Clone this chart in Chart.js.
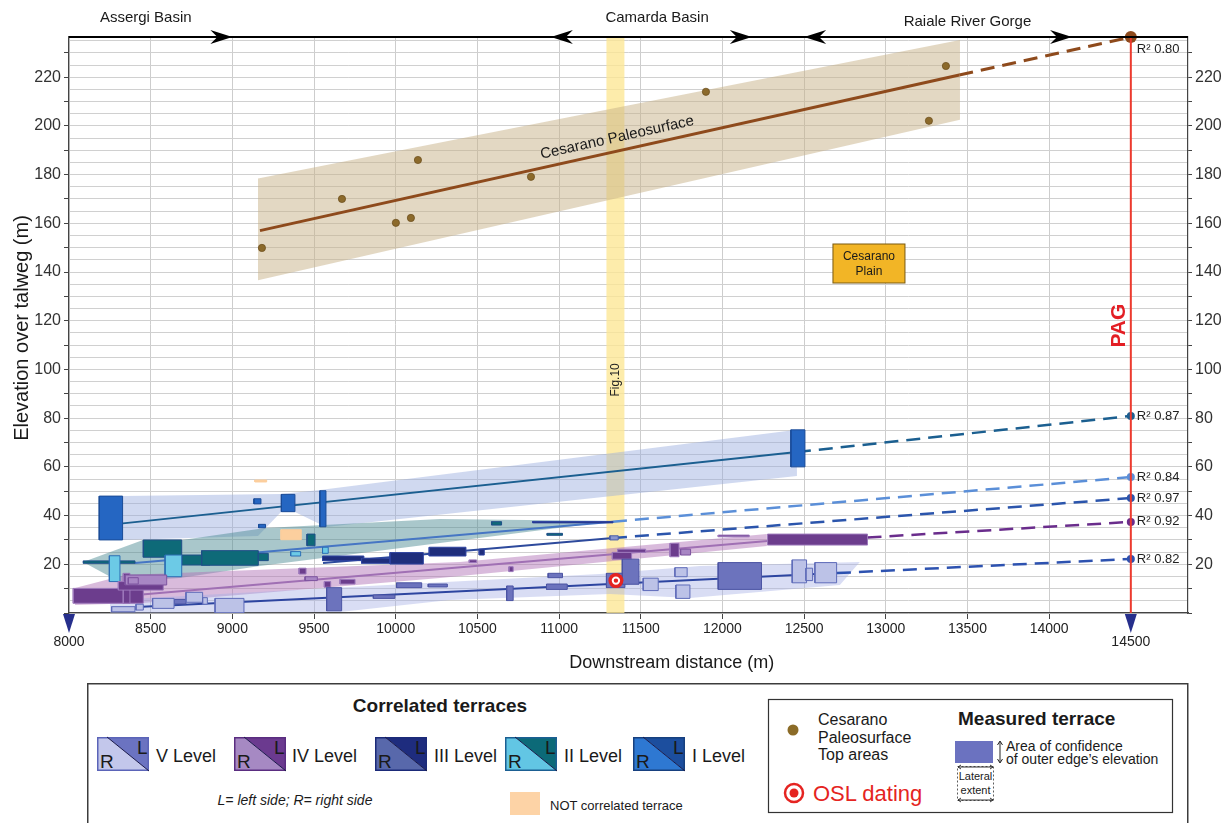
<!DOCTYPE html>
<html>
<head>
<meta charset="utf-8">
<script src="https://cdn.jsdelivr.net/npm/chart.js@4.4.1/dist/chart.umd.min.js"></script>
<style>
  body { margin: 0; background: #fff; width: 1221px; height: 823px; overflow: hidden; position: relative; }
  #wrap { position: absolute; left: 0; top: 0; width: 1221px; height: 680px; }
  #leg { position: absolute; left: 0; top: 680px; }
</style>
</head>
<body>
<div id="wrap"><canvas id="c"></canvas></div>
<svg id="leg" width="1221" height="143"></svg>
<script>
const NARROW = "'Liberation Sans Narrow','DejaVu Sans Condensed','Arial Narrow',sans-serif";
const SANS = "'Liberation Sans',Arial,sans-serif";

// axes
const distanceTicks = [8000, 8500, 9000, 9500, 10000, 10500, 11000, 11500, 12000, 12500, 13000, 13500, 14000, 14500];
const elevationLabels = [20, 40, 60, 80, 100, 120, 140, 160, 180, 200, 220];

// basins along the top of the profile
const basins = [
  { name: 'Assergi Basin', from: 8000, to: 9000, label: 8470, heads: '>' },
  { name: 'Camarda Basin', from: 10950, to: 12180, label: 11600, heads: '<>' },
  { name: 'Raiale River Gorge', from: 12500, to: 14140, label: 13500, heads: '<>' }
];

// Cesarano paleosurface
const cesaranoDistance = [9181, 9671, 10001, 10093, 10136, 10828, 11899, 13264, 13368];
const cesaranoElevation = [149.9, 170.0, 160.2, 162.2, 186.0, 179.1, 214.0, 202.1, 224.6];
const cesaranoTrend = [[9169, 157], [13450, 220.9]];
const cesaranoExt = [[13450, 220.9], [14500, 236.5]];
const cesaranoBand = [[9157, 178.4], [13454, 235.3], [13454, 202.5], [9157, 136.6]];

// regression lines of the correlated levels (solid part, then projection to PAG)
const trendI = [[8330, 36.8], [12456, 66.1]];
const extI = [[12456, 66.1], [14500, 80.9]];
const trendII = [[8404, 20.5], [11330, 37.5]];
const extII = [[11330, 37.5], [14500, 55.8]];
const trendIII = [[9555, 20.5], [11330, 30.8]];
const extIII = [[11330, 30.8], [14500, 47.2]];
const trendIV = [[8214, 6.3], [12276, 29.6]];
const extIV = [[12888, 31.0], [14500, 37.4]];
const trendV = [[8416, 2.5], [12701, 16.4]];
const extV = [[12701, 16.4], [14500, 22.2]];
const r2Values = ['0.80', '0.87', '0.84', '0.97', '0.92', '0.82'];

// confidence bands
const bandI = [[8324, 48.0], [9298, 48.9], [9536, 50.5], [12456, 75.2], [12456, 56.3], [9573, 35.3], [9383, 41.5], [9298, 41.5], [9157, 31.6], [8324, 30.0]];
const bandII = [[8086, 20.9], [8453, 30.0], [8692, 30.0], [9200, 34.9], [10271, 38.6], [11330, 37.8], [10271, 28.7], [9169, 19.3], [8679, 14.4], [8312, 12.7]];
const bandIV = [[8037, 10.3], [8343, 15.6], [10393, 20.9], [12272, 32.4], [12272, 27.5], [10271, 14.4], [8453, 4.1], [8037, 3.3]];
const bandV = [[8251, 5.3], [9597, 10.3], [11250, 16.0], [11862, 19.3], [12841, 20.9], [12719, 11.5], [11801, 6.2], [11311, 7.8], [10332, 5.3], [9659, 0.4], [8251, 0]];

// measured terraces: [from, to, low, high]  (L = left side, R = right side)
const terI = [[8185, 8328, 30.0, 48.0], [9132, 9175, 44.8, 46.9], [9161, 9203, 35.0, 36.4], [9300, 9383, 41.6, 48.7], [9536, 9573, 35.4, 50.2], [12419, 12505, 60.0, 75.2]];
const terIIL = [[8088, 8404, 20.4, 21.4], [8455, 8690, 22.9, 30.0], [8690, 8863, 19.7, 23.8], [8812, 9159, 19.6, 25.6], [9159, 9220, 21.5, 24.5], [9457, 9506, 27.6, 32.4], [10587, 10648, 36.1, 37.5], [10927, 11021, 31.9, 32.7]];
const terIIR = [[8247, 8312, 12.9, 23.5], [8588, 8690, 14.9, 23.8], [9357, 9418, 23.4, 25.2], [9552, 9587, 24.5, 27.0]];
const terIIIL = [[9552, 9805, 21.5, 23.4], [9791, 9965, 20.4, 22.5], [9965, 10169, 20.1, 24.8], [10205, 10430, 23.4, 27.0], [10511, 10542, 23.8, 26.2], [10838, 11330, 37.0, 37.6]];
const terIIIR = [[11311, 11362, 30.0, 31.7]];
const terIVL = [[8026, 8455, 4.0, 10.1], [8332, 8373, 4.0, 16.3], [8302, 8577, 9.4, 12.9], [9408, 9451, 16.0, 18.4], [9563, 9602, 10.6, 12.9], [9659, 9751, 11.9, 13.8], [10450, 10495, 20.7, 21.8], [10693, 10719, 17.0, 19.0], [11326, 11444, 22.1, 24.9], [11358, 11530, 24.9, 26.2], [11679, 11734, 23.1, 28.6], [11974, 12164, 31.3, 32.0], [12276, 12888, 27.9, 32.4]];
const terIVR = [[8343, 8598, 11.5, 15.6], [8363, 8424, 11.9, 14.5], [9445, 9520, 13.3, 14.9], [11744, 11805, 23.8, 26.2]];
const terVL = [[8643, 8716, 3.7, 5.6], [9577, 9669, 0.9, 10.4], [9863, 9995, 6.0, 7.4], [10005, 10159, 10.4, 12.4], [10199, 10316, 10.7, 11.9], [10679, 10719, 5.1, 11.1], [10933, 11021, 14.5, 16.3], [10923, 11050, 9.7, 11.9], [11290, 11403, 10.4, 16.3], [11387, 11489, 11.8, 22.1], [11974, 12239, 9.7, 20.7]];
const terVR = [[8261, 8404, 0.5, 2.6], [8410, 8455, 1.2, 3.6], [8512, 8643, 1.9, 6.0], [8716, 8818, 4.4, 8.5], [8818, 8847, 3.6, 6.3], [8894, 9071, 0.1, 6.0], [11515, 11607, 9.2, 14.3], [11709, 11784, 14.9, 18.6], [11715, 11801, 6.0, 11.5], [12427, 12515, 12.4, 21.8], [12511, 12552, 13.3, 18.4], [12566, 12699, 12.4, 20.7]];
const notCorrelated = [[9138, 9210, 53.8, 54.6], [9298, 9422, 30.1, 34.2]];

const oslSample = [11348, 13.3];
const fig10 = [11290, 11400];
const pag = 14500;
const cesaranoPlain = [12897, 143.5];
const yTop = 236.5;

const datasets = [];
function add(ds) { ds.order = -datasets.length; datasets.push(ds); }
const pts = a => a.map(p => ({ x: p[0], y: p[1] }));

function poly(points, fill, stroke, w) {
  add({
    type: 'line', data: pts(points), fill: 'shape', backgroundColor: fill,
    borderColor: stroke || 'rgba(0,0,0,0)', borderWidth: w || 0, pointRadius: 0, tension: 0
  });
}
function rects(list, fill, stroke) {
  list.forEach(([x0, x1, y0, y1]) => poly([[x0, y0], [x1, y0], [x1, y1], [x0, y1], [x0, y0]], fill, stroke, 1));
}
function trend(points, color, width, dash, endDot) {
  add({
    type: 'line', data: pts(points), fill: false, borderColor: color, borderWidth: width,
    borderDash: dash || [], tension: 0, clip: 12,
    pointRadius: c => (endDot && c.dataIndex === points.length - 1) ? endDot : 0,
    pointBackgroundColor: color, pointBorderWidth: 0
  });
}

// Fig. 10 strip
poly([[fig10[0], 0], [fig10[1], 0], [fig10[1], yTop], [fig10[0], yTop]], 'rgba(252,231,148,0.78)');
// bands
poly(cesaranoBand, 'rgba(200,178,135,0.5)');
poly(bandI, 'rgba(150,170,222,0.45)');
poly(bandII, 'rgba(75,138,146,0.48)');
poly(bandIV, 'rgba(175,112,182,0.48)');
poly(bandV, 'rgba(165,175,228,0.42)');
// lines
const DASH = [14, 8];
trend(cesaranoTrend, '#8e4a1c', 3);
trend(cesaranoExt, '#8e4a1c', 3, DASH, 6);
trend(trendI, '#1b5f90', 2);
trend(extI, '#1b5f90', 2.5, DASH, 4);
trend(trendII, '#4676c4', 2);
trend(extII, '#5b8fd8', 2.5, DASH, 4);
trend(trendIII, '#2d4a9c', 2);
trend(extIII, '#2b55ac', 2.5, DASH, 4);
trend(trendIV, '#a070b4', 2);
trend(extIV, '#6a2d8c', 2.5, DASH, 4);
trend(trendV, '#2d45a0', 2);
trend(extV, '#2d52b0', 2.5, DASH, 4);
// terraces
rects(terI, '#2566c2', '#1a4c98');
rects(terIIL, '#0e6a78', '#1f4f88');
rects(terIIR, '#6ccae6', '#2d6fb5');
rects(terIIIL, '#1f2e7c', '#2e43a0');
rects(terIIIR, '#8c98cf', '#4d5fa8');
rects(terIVL, '#6c3d8d', '#9c78bb');
rects(terIVR, '#a886c4', '#7d539f');
rects(terVL, '#6c73bd', '#4b54a3');
rects(terVR, '#bcc2e7', '#5e6bb9');
rects(notCorrelated, '#fccf9e', '#fccf9e');
// points
add({
  type: 'line', showLine: false, data: cesaranoDistance.map((x, i) => ({ x, y: cesaranoElevation[i] })),
  pointRadius: 3.6, pointBackgroundColor: '#8c6a2b', pointBorderColor: '#6e5120', pointBorderWidth: 0.8
});
add({ type: 'line', showLine: false, data: pts([oslSample]), pointRadius: 7.5, pointBackgroundColor: '#e52421', pointBorderWidth: 0 });
add({ type: 'line', showLine: false, data: pts([oslSample]), pointRadius: 3.2, pointBackgroundColor: '#e52421', pointBorderColor: '#fff', pointBorderWidth: 2 });
// PAG
add({ type: 'line', data: pts([[pag, 0], [pag, yTop]]), borderColor: '#ec3a2e', borderWidth: 2, pointRadius: 0, fill: false });

function arrowHead(ctx, tip, yy, dir) {
  ctx.beginPath();
  ctx.moveTo(tip, yy);
  ctx.lineTo(tip - dir * 22, yy - 7);
  ctx.lineTo(tip - dir * 15, yy);
  ctx.lineTo(tip - dir * 22, yy + 7);
  ctx.closePath();
  ctx.fill();
}

const overlay = {
  id: 'overlay',
  afterDatasetsDraw(chart) {
    const { ctx, scales: { x, y } } = chart;
    const px = v => x.getPixelForValue(v), py = v => y.getPixelForValue(v);

    // label along the Cesarano trend
    const x0 = px(cesaranoTrend[0][0]), y0 = py(cesaranoTrend[0][1]);
    const x1 = px(cesaranoTrend[1][0]), y1 = py(cesaranoTrend[1][1]);
    const ang = Math.atan2(y1 - y0, x1 - x0);
    const cx = px(11373);
    ctx.save();
    ctx.translate(cx, y0 + (cx - x0) * Math.tan(ang));
    ctx.rotate(ang);
    ctx.font = '15px ' + SANS;
    ctx.fillStyle = '#1a1a1a';
    ctx.textAlign = 'center';
    ctx.fillText('Cesarano Paleosurface', 0, -9);
    ctx.restore();

    // Fig.10
    ctx.save();
    ctx.translate(px((fig10[0] + fig10[1]) / 2) + 4, py(95.7));
    ctx.rotate(-Math.PI / 2);
    ctx.font = '12px ' + SANS;
    ctx.fillStyle = '#222';
    ctx.textAlign = 'center';
    ctx.fillText('Fig.10', 0, 0);
    ctx.restore();

    // PAG
    ctx.save();
    ctx.translate(px(14421) + 7, py(118));
    ctx.rotate(-Math.PI / 2);
    ctx.font = 'bold 21px ' + SANS;
    ctx.fillStyle = '#e31e24';
    ctx.textAlign = 'center';
    ctx.fillText('PAG', 0, 0);
    ctx.restore();

    // R2 labels
    const ends = [231.6, extI[1][1], extII[1][1], extIII[1][1], extIV[1][1], extV[1][1]];
    ctx.save();
    ctx.font = '13px ' + SANS;
    ctx.fillStyle = '#222';
    ctx.textAlign = 'left';
    ctx.textBaseline = 'middle';
    ends.forEach((v, i) => ctx.fillText('R\u00b2 ' + r2Values[i], px(pag) + 6, py(v)));

    // Cesarano Plain box
    const bx = px(cesaranoPlain[0]), by = py(cesaranoPlain[1]);
    ctx.fillStyle = '#f2b526';
    ctx.strokeStyle = '#7a5a10';
    ctx.lineWidth = 1;
    ctx.fillRect(bx - 36, by - 19.5, 72, 39);
    ctx.strokeRect(bx - 36, by - 19.5, 72, 39);
    ctx.fillStyle = '#1a1a1a';
    ctx.font = '12px ' + SANS;
    ctx.textAlign = 'center';
    ctx.fillText('Cesarano', bx, by - 7);
    ctx.fillText('Plain', bx, by + 8);
    ctx.restore();
  },
  afterDraw(chart) {
    const { ctx, chartArea: a, scales: { x } } = chart;
    const px = v => x.getPixelForValue(v);
    ctx.save();
    // top line with basin arrows
    ctx.strokeStyle = '#000';
    ctx.lineWidth = 2;
    ctx.beginPath();
    ctx.moveTo(a.left, a.top);
    ctx.lineTo(a.right, a.top);
    ctx.stroke();
    ctx.fillStyle = '#000';
    basins.forEach(b => {
      if (b.heads.includes('<')) arrowHead(ctx, px(b.from), a.top, -1);
      if (b.heads.includes('>')) arrowHead(ctx, px(b.to), a.top, 1);
    });
    ctx.font = '15px ' + SANS;
    ctx.fillStyle = '#1a1a1a';
    ctx.textAlign = 'center';
    ctx.textBaseline = 'middle';
    basins.forEach((b, i) => ctx.fillText(b.name, px(b.label), i === 2 ? 22 : 18));

    // markers under the axis
    ctx.fillStyle = '#262f8c';
    [distanceTicks[0], pag].forEach(v => {
      const cx = px(v);
      ctx.beginPath();
      ctx.moveTo(cx - 6, a.bottom + 1);
      ctx.lineTo(cx + 6, a.bottom + 1);
      ctx.lineTo(cx, a.bottom + 20);
      ctx.closePath();
      ctx.fill();
    });

    // axis titles
    ctx.fillStyle = '#1a1a1a';
    ctx.font = '18px ' + SANS;
    ctx.textAlign = 'center';
    ctx.fillText('Downstream distance (m)', px(11690), 663);
    ctx.translate(22, (a.top + a.bottom) / 2 + 3);
    ctx.rotate(-Math.PI / 2);
    ctx.font = '20px ' + SANS;
    ctx.fillText('Elevation over talweg (m)', 0, 0);
    ctx.restore();
  }
};

const yGridTicks = [];
for (let v = 0; v <= 235; v += 5) yGridTicks.push({ value: v });

const yTickColor = c => (c.tick && c.tick.value % 10 === 0) ? '#444' : 'rgba(0,0,0,0)';
const yLabel = v => elevationLabels.includes(v) ? String(v) : '';
const yFont = { family: SANS, size: 16 };

new Chart(document.getElementById('c'), {
  type: 'line',
  data: { datasets },
  plugins: [overlay],
  options: {
    responsive: true,
    maintainAspectRatio: false,
    animation: false,
    events: [],
    layout: { padding: { top: 37, left: 0, right: 0, bottom: 0 } },
    plugins: { legend: { display: false }, tooltip: { enabled: false } },
    scales: {
      x: {
        type: 'linear', min: 8000, max: 14850,
        afterBuildTicks: s => { s.ticks = distanceTicks.map(v => ({ value: v })); },
        afterFit: s => { s.height = 67; },
        grid: { color: '#cdcdcd', tickLength: 6, tickColor: '#444' },
        border: { color: '#444', width: 1.2 },
        ticks: {
          autoSkip: false, maxRotation: 0, padding: 3, color: '#222',
          font: { family: SANS, size: 14, lineHeight: 0.95 },
          callback: v => (v === distanceTicks[0] || v === pag) ? ['', String(v)] : String(v)
        }
      },
      y: {
        type: 'linear', min: 0, max: yTop,
        afterBuildTicks: s => { s.ticks = yGridTicks.slice(); },
        afterFit: s => { s.width = 69; },
        grid: { color: '#d0d0d0', tickLength: 5, tickColor: yTickColor },
        border: { color: '#444', width: 1.2 },
        ticks: { autoSkip: false, padding: 3, color: '#333', font: yFont, callback: yLabel }
      },
      y2: {
        type: 'linear', position: 'right', min: 0, max: yTop,
        afterBuildTicks: s => { s.ticks = yGridTicks.slice(); },
        afterFit: s => { s.width = 33; },
        grid: { drawOnChartArea: false, tickLength: 4, tickColor: yTickColor },
        border: { color: '#444', width: 1.2 },
        ticks: { autoSkip: false, padding: 3, color: '#333', font: yFont, callback: yLabel }
      }
    }
  }
});

// legend
const levelNames = ['V Level', 'IV Level', 'III Level', 'II Level', 'I Level'];
const levelLight = ['#c3c7eb', '#a689c3', '#5868ab', '#62c6e4', '#2e78d2'];
const levelDark = ['#6b73c1', '#6b3a8f', '#1e2c7e', '#0c6a78', '#1c4e9e'];
const levelEdge = ['#5b64b8', '#5a2d80', '#1b2a78', '#1b5f92', '#17407f'];
const iconX = [97, 234, 375, 505, 633];
const nameX = [156, 292, 434, 564, 692];

let svg = '';
const T = (x, y, s, txt, extra) => `<text x="${x}" y="${y}" font-size="${s}" fill="#1a1a1a" ${extra || ''}>${txt}</text>`;
const SF = `font-family="${SANS}"`;
svg += `<rect x="87.75" y="3.75" width="1100" height="160" fill="none" stroke="#3c3c3c" stroke-width="1.5"/>`;
svg += T(440, 32, 19, 'Correlated terraces', `${SF} font-weight="bold" text-anchor="middle"`);
levelNames.forEach((n, i) => {
  svg += `<g transform="translate(${iconX[i]},57)">
    <polygon points="0,0 10,0 52,34 0,34" fill="${levelLight[i]}"/>
    <polygon points="10,0 52,0 52,34" fill="${levelDark[i]}"/>
    <rect x="0.75" y="0.75" width="50.5" height="32.5" fill="none" stroke="${levelEdge[i]}" stroke-width="1.5"/>
    <line x1="10" y1="0" x2="52" y2="34" stroke="#1a1a4a" stroke-width="1"/>
    ${T(3, 31, 19, 'R', SF)}${T(40, 17, 19, 'L', SF)}
  </g>`;
  svg += T(nameX[i], 82, 18, n, SF);
});
svg += T(295, 125, 14, 'L= left side; R= right side', `${SF} font-style="italic" text-anchor="middle"`);
svg += `<rect x="510" y="112" width="30" height="23" fill="#fdd3a6"/>`;
svg += T(550, 130, 13, 'NOT correlated terrace', SF);
svg += `<rect x="768.5" y="19.5" width="404" height="113" fill="none" stroke="#333" stroke-width="1.2"/>`;
svg += `<circle cx="793" cy="50" r="5.5" fill="#8b6b27"/>`;
svg += T(818, 45, 16, 'Cesarano', SF) + T(818, 63, 16, 'Paleosurface', SF) + T(818, 80, 16, 'Top areas', SF);
svg += `<circle cx="794" cy="113" r="9" fill="none" stroke="#e52421" stroke-width="2.5"/><circle cx="794" cy="113" r="4.5" fill="#e52421"/>`;
svg += `<text x="813" y="121" font-size="22" fill="#e52421" ${SF}>OSL dating</text>`;
svg += T(958, 45, 19, 'Measured terrace', `${SF} font-weight="bold"`);
svg += `<rect x="955" y="61" width="38" height="22" fill="#6b72c0"/>`;
svg += `<path d="M1000 62 L1000 82 M997.5 65 L1000 61 L1002.5 65 M997.5 79 L1000 83 L1002.5 79" stroke="#222" stroke-width="1" fill="none"/>`;
svg += T(1006, 71, 14, 'Area of confidence', SF) + T(1006, 84, 14, 'of outer edge\u2019s elevation', SF);
svg += `<rect x="957.5" y="86.5" width="36" height="34" fill="none" stroke="#333" stroke-width="0.8" stroke-dasharray="2,2"/>`;
svg += `<path d="M958 87 L993 87 M961 85 L958 87 L961 89 M990 85 L993 87 L990 89 M958 120 L993 120 M961 118 L958 120 L961 122 M990 118 L993 120 L990 122" stroke="#222" stroke-width="0.9" fill="none"/>`;
svg += T(975.5, 100, 11, 'Lateral', `${SF} text-anchor="middle"`) + T(975.5, 114, 11, 'extent', `${SF} text-anchor="middle"`);
document.getElementById('leg').innerHTML = svg;
</script>
</body>
</html>
